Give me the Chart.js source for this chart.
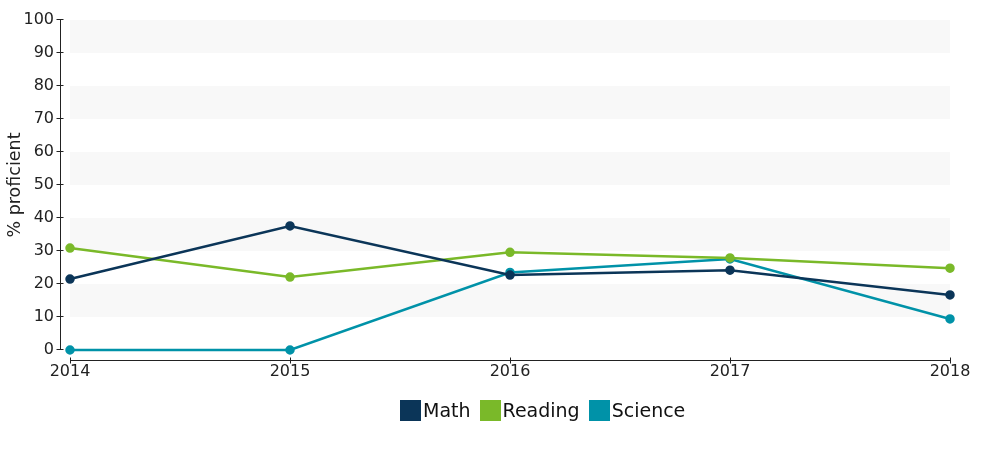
<!DOCTYPE html>
<html>
<head>
<meta charset="utf-8">
<script src="https://cdn.jsdelivr.net/npm/chart.js@4"></script>
<style>
  body { margin: 0; background: #fff; }
  #wrap { position: relative; width: 1000px; height: 450px; }
  #legend { position: absolute; left: 400px; top: 399px; font-family: "DejaVu Sans", Verdana, sans-serif; font-size: 19px; color: #111; display: flex; align-items: center; }
  #legend .item { display: flex; align-items: center; margin-right: 9px; }
  #legend .box { width: 21px; height: 21px; margin-right: 2px; }
</style>
</head>
<body>
<div id="wrap">
  <canvas id="chart" width="1000" height="450"></canvas>
  <div id="legend"></div>
</div>
<script>
// data
const years = ['2014', '2015', '2016', '2017', '2018'];
const mathVals = [21.5, 37.6, 22.7, 24.2, 16.7];
const readingVals = [30.9, 22.1, 29.6, 27.9, 24.8];
const scienceVals = [0, 0, 23.5, 27.6, 9.4];
const yTicks = [0, 10, 20, 30, 40, 50, 60, 70, 80, 90, 100];

const series = [
    { label: 'Math', data: mathVals, color: '#0b3558' },
    { label: 'Reading', data: readingVals, color: '#7ab929' },
    { label: 'Science', data: scienceVals, color: '#0092a8' }
];

// striped background + detached axis lines
const frame = {
    id: 'frame',
    beforeDatasetsDraw(chart) {
        const { ctx, chartArea: a, scales: { x, y } } = chart;
        ctx.save();
        ctx.fillStyle = '#f8f8f8';
        for (let v = 10; v < 100; v += 20) {
            const top = y.getPixelForValue(v + 10), bot = y.getPixelForValue(v);
            ctx.fillRect(a.left, top, a.right - a.left, bot - top);
        }
        ctx.strokeStyle = '#222';
        ctx.lineWidth = 1;
        const ax = a.left - 9.5, ay = a.bottom + 10.5;
        ctx.beginPath();
        // y axis
        ctx.moveTo(ax, a.top); ctx.lineTo(ax, a.bottom);
        yTicks.forEach(t => {
            const py = Math.round(y.getPixelForValue(t)) - 0.5;
            ctx.moveTo(ax - 4, py); ctx.lineTo(ax + 3, py);
        });
        // x axis
        ctx.moveTo(a.left, ay); ctx.lineTo(a.right, ay);
        years.forEach((yr, i) => {
            const px = Math.round(x.getPixelForValue(i)) + 0.5;
            ctx.moveTo(px, ay - 3); ctx.lineTo(px, ay + 3);
        });
        ctx.stroke();
        ctx.restore();
    }
};

const font = { family: '"DejaVu Sans", Verdana, sans-serif', size: 16 };

new Chart(document.getElementById('chart'), {
    type: 'line',
    data: {
        labels: years,
        datasets: series.map(s => ({
            label: s.label, data: s.data,
            borderColor: s.color, backgroundColor: s.color,
            borderWidth: 2.5, pointRadius: 3.5, pointHoverRadius: 3.5, tension: 0, clip: false
        }))
    },
    options: {
        responsive: false, animation: false,
        layout: { padding: { top: 20, right: 50, left: 0, bottom: 0 } },
        plugins: { legend: { display: false }, tooltip: { enabled: false } },
        scales: {
            x: {
                grid: { display: false, drawTicks: false }, border: { display: false },
                ticks: { font, color: '#222', padding: 12, maxRotation: 0 },
                afterFit: s => { s.height = 100; s.paddingLeft = 0; s.paddingRight = 0; }
            },
            y: {
                min: 0, max: 100,
                grid: { display: false, drawTicks: false }, border: { display: false },
                ticks: { font, color: '#222', padding: 16, stepSize: 10 },
                title: { display: true, text: '% proficient', font: { family: font.family, size: 17.5 }, color: '#222', padding: { top: 5, bottom: 0 } },
                afterFit: s => { s.width = 70; s.paddingTop = 0; s.paddingBottom = 0; }
            }
        }
    },
    plugins: [frame]
});

document.getElementById('legend').innerHTML = series.map(s =>
    `<span class="item"><span class="box" style="background:${s.color}"></span>${s.label}</span>`).join('');
</script>
</body>
</html>
